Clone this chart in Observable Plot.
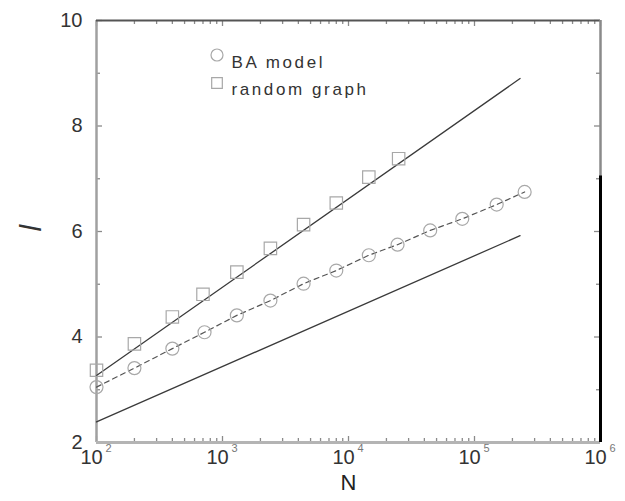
<!DOCTYPE html>
<html>
<head>
<meta charset="utf-8">
<script src="https://cdn.jsdelivr.net/npm/d3@7"></script>
<script src="https://cdn.jsdelivr.net/npm/@observablehq/plot@0.6"></script>
<style>
  body { margin: 0; background: #fff; }
</style>
</head>
<body>
<div id="chart"></div>
<script>
// Average path length l against network size N
const baN = [100, 200, 400, 720, 1300, 2400, 4400, 8000, 14500, 24500, 44500, 80000, 150000, 250000];
const baL = [3.05, 3.41, 3.78, 4.09, 4.41, 4.69, 5.01, 5.26, 5.55, 5.75, 6.02, 6.24, 6.51, 6.75];

const randN = [100, 200, 400, 700, 1300, 2400, 4400, 8000, 14500, 25000];
const randL = [3.37, 3.87, 4.38, 4.81, 5.23, 5.68, 6.13, 6.54, 7.03, 7.38];

// straight reference lines (on log N)
const fitN = [100, 230000];
const fitUpperL = [3.27, 8.9];
const fitLowerL = [2.39, 5.92];

// axes
const xDomain = [1e2, 1e6];
const yDomain = [2, 10];
const xMajor = [1e2, 1e3, 1e4, 1e5, 1e6];
const xExponents = ["2", "3", "4", "5", "6"];
const yMajor = [2, 4, 6, 8, 10];
const yMinor = [3, 5, 7, 9];
const xMinor = [];
for (const decade of [1e2, 1e3, 1e4, 1e5]) for (let m = 2; m <= 9; m++) xMinor.push(decade * m);

const legendLabels = ["BA model", "random graph"];
const legendSymbols = ["circle", "square"];

const ba = baN.map((n, i) => ({n, l: baL[i]}));
const rand = randN.map((n, i) => ({n, l: randL[i]}));
const upper = fitN.map((n, i) => ({n, l: fitUpperL[i]}));
const lower = fitN.map((n, i) => ({n, l: fitLowerL[i]}));

const W = 625, H = 501;
const mL = 96, mR = 25, mT = 20, mB = 59;
const frameW = W - mL - mR, frameH = H - mT - mB;

const tickColor = "#8a8a8a";
const markerColor = "#a8a8a8";
const font = "'Liberation Sans', Arial, Helvetica, sans-serif";

// short inward ticks along each edge of the frame
const ticksX = (values, len) => [
  Plot.tickX(values, {x: d => d, insetTop: frameH - len, stroke: tickColor, strokeWidth: 1.3}),
  Plot.tickX(values, {x: d => d, insetBottom: frameH - len, stroke: tickColor, strokeWidth: 1.3})
];
const ticksY = (values, len) => [
  Plot.tickY(values, {y: d => d, insetRight: frameW - len, stroke: tickColor, strokeWidth: 1.3}),
  Plot.tickY(values, {y: d => d, insetLeft: frameW - len, stroke: tickColor, strokeWidth: 1.3})
];

const legendMarks = legendLabels.flatMap((label, i) => [
  Plot.dot([label], {frameAnchor: "top-left", dx: 120.5, dy: 34.5 + i * 28, symbol: legendSymbols[i],
    r: 6, stroke: markerColor, strokeWidth: 1.2, fill: "none"}),
  Plot.text([label], {frameAnchor: "top-left", dx: 135, dy: 35 + i * 27.5, text: d => d,
    textAnchor: "start", fontSize: 17, fill: "#333"})
]);

const chart = Plot.plot({
  width: W,
  height: H,
  marginLeft: mL,
  marginRight: mR,
  marginTop: mT,
  marginBottom: mB,
  style: {fontFamily: font, background: "white", color: "#333"},
  x: {type: "log", domain: xDomain, axis: null},
  y: {domain: yDomain, axis: null},
  marks: [
    ...ticksX(xMajor, 6),
    ...ticksX(xMinor, 4),
    ...ticksY(yMajor, 6),
    ...ticksY(yMinor, 4),
    // y tick labels
    Plot.text(yMajor, {y: d => d, frameAnchor: "left", dx: -14, textAnchor: "end", text: d => String(d),
      fontSize: 20, fill: "#333"}),
    // x tick labels: 10 with a raised exponent
    Plot.text(xMajor, {x: d => d, frameAnchor: "bottom", dx: -5, dy: 21, text: () => "10",
      fontSize: 20, fill: "#333"}),
    Plot.text(xMajor, {x: d => d, frameAnchor: "bottom", dx: 12, dy: 9, text: (d, i) => xExponents[i],
      fontSize: 11, fill: "#777"}),
    // axis titles
    Plot.text(["N"], {frameAnchor: "bottom", dy: 47, fontSize: 22, fill: "#222"}),
    Plot.text(["l"], {frameAnchor: "left", dx: -65, fontSize: 30, fontStyle: "italic", fill: "#333"}),
    // frame edges
    Plot.ruleX([xDomain[0]], {stroke: "#a0a0a0", strokeWidth: 2.5}),
    Plot.ruleY([yDomain[0]], {stroke: "#b4b4b4", strokeWidth: 3}),
    Plot.ruleY([yDomain[1]], {stroke: "#555", strokeWidth: 2}),
    Plot.ruleX([xDomain[1]], {stroke: "#8a8a8a", strokeWidth: 2.5}),
    Plot.ruleX([xDomain[1]], {y1: yDomain[0], y2: 7.05, stroke: "#000", strokeWidth: 3}),
    // reference lines
    Plot.line(upper, {x: "n", y: "l", stroke: "#3a3a3a", strokeWidth: 1.3}),
    Plot.line(lower, {x: "n", y: "l", stroke: "#3a3a3a", strokeWidth: 1.3}),
    // BA model
    Plot.line(ba, {x: "n", y: "l", stroke: "#555", strokeWidth: 1.2, strokeDasharray: "5,4"}),
    Plot.dot(ba, {x: "n", y: "l", symbol: "circle", r: 6.5, stroke: markerColor, strokeWidth: 1.2, fill: "none"}),
    // random graph
    Plot.dot(rand, {x: "n", y: "l", symbol: "square", r: 7, stroke: markerColor, strokeWidth: 1.2, fill: "none"}),
    ...legendMarks
  ]
});

const texts = d3.select(chart).selectAll("text");
// wider tracking for the legend labels
texts.filter(function () { return legendLabels.includes(this.textContent); })
  .attr("letter-spacing", 2.6);
// lay the y title on its side, turning it about its own anchor point
texts.filter(function () { return this.textContent === "l"; })
  .each(function () {
    const t = this.getAttribute("transform") || "";
    const m = t.match(/translate\(([^)]+)\)/);
    if (m) {
      this.setAttribute("transform", `translate(${m[1]}) rotate(-90)`);
    } else {
      const x = this.getAttribute("x") || 0, y = this.getAttribute("y") || 0;
      this.setAttribute("transform", `rotate(-90 ${x} ${y})`);
    }
  });

document.getElementById("chart").appendChild(chart);
</script>
</body>
</html>
